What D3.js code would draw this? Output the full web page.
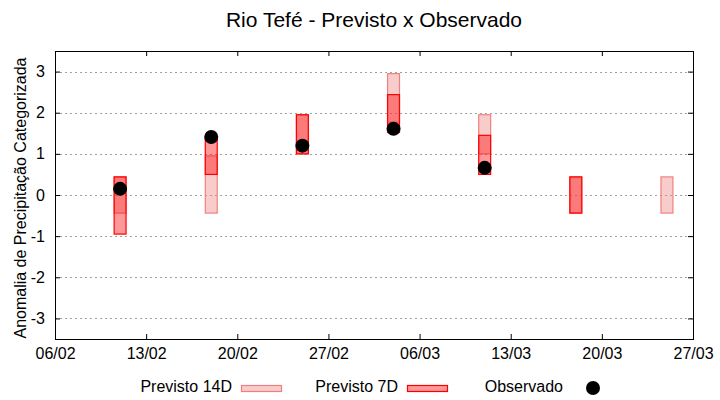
<!DOCTYPE html>
<html><head><meta charset="utf-8">
<script src="https://cdn.jsdelivr.net/npm/d3@7"></script>
<style>
body{margin:0;background:#fff}
svg text{font-family:"Liberation Sans",Arial,sans-serif;fill:#000}
</style>
</head><body><svg id="c" width="720" height="400"></svg>
<script>
// ---- data ----
const dates      = ["2023-02-11","2023-02-18","2023-02-25","2023-03-04","2023-03-11","2023-03-18","2023-03-25"];
const prev14Low  = [-0.44, -0.44, 1.00, 1.77, 1.00, -0.44, -0.44];
const prev14High = [ 0.44,  0.95, 1.95, 2.95, 1.95,  0.44,  0.44];
const prev7Low   = [-0.95,  0.50, 1.00, 1.52, 0.50, -0.44, null];
const prev7High  = [ 0.44,  1.40, 1.95, 2.44, 1.45,  0.44, null];
const observed   = [ 0.15,  1.41, 1.20, 1.61, 0.66, null, null];
const xTickDates = ["2023-02-06","2023-02-13","2023-02-20","2023-02-27","2023-03-06","2023-03-13","2023-03-20","2023-03-27"];
const yTicks     = [-3,-2,-1,0,1,2,3];
const xDomain    = ["2023-02-06","2023-03-27"];
const yDomain    = [-3.5, 3.5];
const title      = "Rio Tefé - Previsto x Observado";
const yLabel     = "Anomalia de Precipitação Categorizada";
const legendNames = ["Previsto 14D","Previsto 7D","Observado"];

// ---- layout ----
const parse = d3.timeParse("%Y-%m-%d");
const L = 55, R = 693, T = 51, B = 339;
const svg = d3.select("#c");
const x = d3.scaleTime().domain(xDomain.map(parse)).range([L, R]);
const y = d3.scaleLinear().domain(yDomain).range([B, T]);
const FONT = '"Liberation Sans",Arial,sans-serif';

const c14 = {fill:"rgba(240,128,128,0.4)", stroke:"#f08080"};
const c7  = {fill:"rgba(255,0,0,0.4)", stroke:"#ff0000"};

// grid
svg.append("g").selectAll("line").data(yTicks).join("line")
  .attr("x1", L).attr("x2", R)
  .attr("y1", d => Math.round(y(d)) + 0.5).attr("y2", d => Math.round(y(d)) + 0.5)
  .attr("stroke", "#a0a0a0").attr("stroke-width", 1).attr("stroke-dasharray", "2,3");

// bars
function halfLeft(d){ return x(d3.timeHour.offset(parse(d), -11)); }
function halfRight(d){ return x(d3.timeHour.offset(parse(d), 11)); }
function drawBars(lo, hi, col){
  const rows = dates.map((d,i) => ({d, lo: lo[i], hi: hi[i]})).filter(r => r.lo != null);
  svg.append("g").selectAll("rect").data(rows).join("rect")
    .attr("x", r => halfLeft(r.d))
    .attr("width", r => halfRight(r.d) - halfLeft(r.d))
    .attr("y", r => y(r.hi))
    .attr("height", r => y(r.lo) - y(r.hi))
    .attr("fill", col.fill).attr("stroke", col.stroke).attr("stroke-width", 1.2);
}
drawBars(prev14Low, prev14High, c14);
drawBars(prev7Low, prev7High, c7);

// observed
const obs = dates.map((d,i) => ({d, v: observed[i]})).filter(r => r.v != null);
svg.append("g").selectAll("circle").data(obs).join("circle")
  .attr("cx", r => x(parse(r.d))).attr("cy", r => y(r.v)).attr("r", 7).attr("fill", "#000");

// axes
function styleAxis(g){
  g.select(".domain").remove();
  g.selectAll("line").attr("stroke", "#000");
  g.selectAll("text").attr("font-family", FONT).attr("font-size", 16).attr("fill", "#000");
  g.attr("font-family", FONT).attr("font-size", 16);
}
svg.append("g").attr("transform", `translate(${L},0)`)
  .call(d3.axisLeft(y).tickValues(yTicks).tickFormat(d => String(d)).tickSizeInner(-5).tickSizeOuter(0).tickPadding(10))
  .call(styleAxis);
svg.append("g").attr("transform", `translate(${R},0)`)
  .call(d3.axisRight(y).tickValues(yTicks).tickFormat("").tickSizeInner(-5).tickSizeOuter(0))
  .call(styleAxis);
svg.append("g").attr("transform", `translate(0,${B})`)
  .call(d3.axisBottom(x).tickValues(xTickDates.map(parse)).tickFormat(d3.timeFormat("%d/%m")).tickSizeInner(-5).tickSizeOuter(0).tickPadding(9))
  .call(styleAxis);
svg.append("g").attr("transform", `translate(0,${T})`)
  .call(d3.axisTop(x).tickValues(xTickDates.map(parse)).tickFormat("").tickSizeInner(-5).tickSizeOuter(0))
  .call(styleAxis);

// border
svg.append("rect").attr("x", L + 0.5).attr("y", T + 0.5).attr("width", R - L).attr("height", B - T)
  .attr("fill", "none").attr("stroke", "#000").attr("stroke-width", 1);

// title
svg.append("text").attr("x", (L + R) / 2).attr("y", 27).attr("text-anchor", "middle")
  .attr("font-size", 21).text(title);

// y label
svg.append("text").attr("transform", `translate(26,${(T + B) / 2 + 3}) rotate(-90)`)
  .attr("text-anchor", "middle").attr("font-size", 16).text(yLabel);

// legend
const lg = svg.append("g").attr("font-size", 16);
lg.append("text").attr("x", 232).attr("y", 392).attr("text-anchor", "end").text(legendNames[0]);
lg.append("rect").attr("x", 241.5).attr("y", 385.5).attr("width", 40).attr("height", 6)
  .attr("fill", c14.fill).attr("stroke", c14.stroke).attr("stroke-width", 1.2);
lg.append("text").attr("x", 398).attr("y", 392).attr("text-anchor", "end").text(legendNames[1]);
lg.append("rect").attr("x", 407.5).attr("y", 385.5).attr("width", 40).attr("height", 6)
  .attr("fill", c7.fill).attr("stroke", c7.stroke).attr("stroke-width", 1.2);
lg.append("text").attr("x", 563).attr("y", 392).attr("text-anchor", "end").text(legendNames[2]);
lg.append("circle").attr("cx", 593).attr("cy", 388).attr("r", 7).attr("fill", "#000");
</script>
</body></html>
